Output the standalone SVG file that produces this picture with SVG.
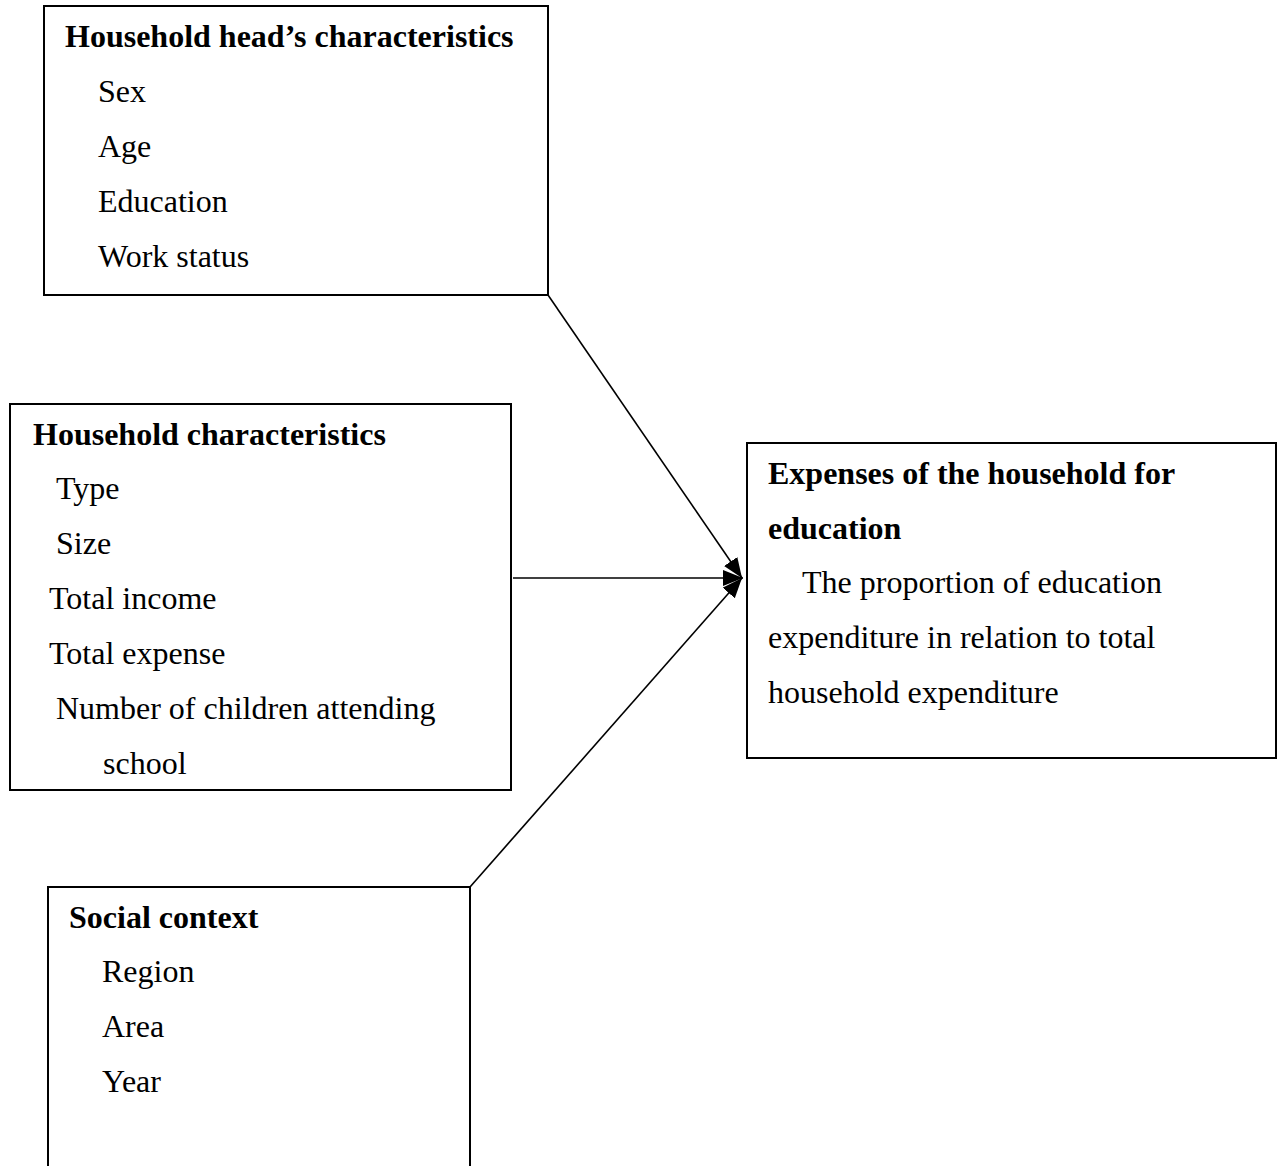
<svg xmlns="http://www.w3.org/2000/svg" width="1283" height="1166" viewBox="0 0 1283 1166">
<style>
.box{fill:#fff;stroke:#000;stroke-width:2}
.t{font-family:"Liberation Serif","Times New Roman",serif;font-size:32px;fill:#000}
.b{font-weight:bold}
.c{stroke:#000;stroke-width:1.6;fill:none}
</style>
<defs>
<marker id="ah" markerUnits="userSpaceOnUse" markerWidth="22" markerHeight="18" refX="20" refY="8" orient="auto">
<path d="M0,0 L20,8 L0,16 Z" fill="#000"/>
</marker>
</defs>
<rect width="1283" height="1166" fill="#fff"/>
<g id="connectors">
<line class="c" x1="548" y1="295" x2="742" y2="578" marker-end="url(#ah)"/>
<line class="c" x1="513" y1="578" x2="743" y2="578" marker-end="url(#ah)"/>
<line class="c" x1="470" y1="887" x2="742" y2="578" marker-end="url(#ah)"/>
</g>
<g id="head">
<rect class="box" x="44" y="6" width="504" height="289"/>
<text class="t b" x="65" y="47">Household head’s characteristics</text>
<text class="t" x="98" y="102">Sex</text>
<text class="t" x="98" y="157">Age</text>
<text class="t" x="98" y="212">Education</text>
<text class="t" x="98" y="267">Work status</text>
</g>
<g id="household">
<rect class="box" x="10" y="404" width="501" height="386"/>
<text class="t b" x="33" y="445">Household characteristics</text>
<text class="t" x="56" y="499">Type</text>
<text class="t" x="56" y="554">Size</text>
<text class="t" x="49" y="609">Total income</text>
<text class="t" x="49" y="664">Total expense</text>
<text class="t" x="56" y="719">Number of children attending</text>
<text class="t" x="103" y="774">school</text>
</g>
<g id="social">
<path class="box" d="M48,1168 L48,887 L470,887 L470,1168"/>
<text class="t b" x="69" y="928">Social context</text>
<text class="t" x="102" y="982">Region</text>
<text class="t" x="102" y="1037">Area</text>
<text class="t" x="102" y="1092">Year</text>
</g>
<g id="expenses">
<rect class="box" x="747" y="443" width="529" height="315"/>
<text class="t b" x="768" y="484">Expenses of the household for</text>
<text class="t b" x="768" y="539">education</text>
<text class="t" x="802" y="593">The proportion of education</text>
<text class="t" x="768" y="648">expenditure in relation to total</text>
<text class="t" x="768" y="703">household expenditure</text>
</g>
</svg>
